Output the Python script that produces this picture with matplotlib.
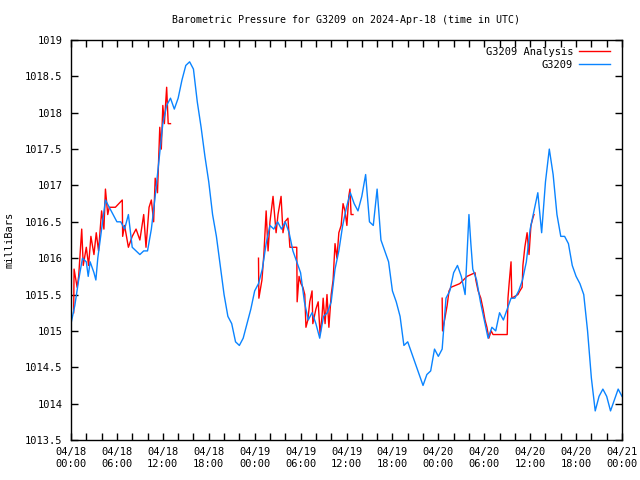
import matplotlib
matplotlib.use('Agg')
import matplotlib.pyplot as plt

# hours since 2024-04-18 00:00 UTC
blue_hours = [0.0, 0.5, 1.0, 1.5, 2.0, 2.25, 2.5, 3.0, 3.25, 3.5, 4.0, 4.5, 5.0, 5.5,
              6.0, 6.5, 7.0, 7.5, 8.0, 8.5, 9.0, 9.5, 10.0, 10.5, 11.0, 11.5, 12.0,
              12.5, 13.0, 13.5, 14.0, 14.5, 15.0, 15.5, 16.0, 16.5, 17.0, 17.5, 18.0,
              18.5, 19.0, 19.5, 20.0, 20.5, 21.0, 21.5, 22.0, 22.5, 23.0, 23.5, 24.0,
              24.5, 25.0, 25.5, 26.0, 26.5, 27.0, 27.5, 28.0, 28.5, 29.0, 29.5, 30.0,
              30.5, 31.0, 31.5, 32.0, 32.5, 33.0, 33.5, 34.0, 34.5, 35.0, 35.5, 36.0,
              36.5, 37.0, 37.5, 38.0, 38.5, 39.0, 39.5, 40.0, 40.5, 41.0, 41.5, 42.0,
              42.5, 43.0, 43.5, 44.0, 44.5, 45.0, 45.5, 46.0, 46.5, 47.0, 47.5, 48.0,
              48.5, 49.0, 49.5, 50.0, 50.5, 51.0, 51.5, 52.0, 52.25, 52.5, 53.0, 53.5,
              54.0, 54.5, 55.0, 55.5, 56.0, 56.5, 57.0, 57.5, 58.0, 58.5, 59.0, 59.5,
              60.0, 60.5, 61.0, 61.5, 62.0, 62.5, 63.0, 63.5, 64.0, 64.5, 65.0, 65.5,
              66.0, 66.5, 67.0, 67.5, 68.0, 68.5, 69.0, 69.5, 70.0, 70.5, 71.0, 71.5,
              72.0]
blue_mbar = [1015.1, 1015.35, 1015.7, 1016.0, 1015.95, 1015.75, 1015.95, 1015.8, 1015.7,
             1016.0, 1016.4, 1016.8, 1016.7, 1016.6, 1016.5, 1016.5, 1016.4, 1016.6,
             1016.15, 1016.1, 1016.05, 1016.1, 1016.1, 1016.4, 1016.85, 1017.35,
             1017.85, 1018.1, 1018.2, 1018.05, 1018.2, 1018.45, 1018.65, 1018.7,
             1018.6, 1018.15, 1017.8, 1017.4, 1017.05, 1016.6, 1016.3, 1015.9, 1015.5,
             1015.2, 1015.1, 1014.85, 1014.8, 1014.9, 1015.1, 1015.3, 1015.55,
             1015.65, 1015.85, 1016.2, 1016.45, 1016.4, 1016.5, 1016.4, 1016.5,
             1016.35, 1016.1, 1015.95, 1015.8, 1015.4, 1015.15, 1015.25, 1015.1,
             1014.9, 1015.2, 1015.25, 1015.4, 1015.85, 1016.1, 1016.45, 1016.7,
             1016.9, 1016.75, 1016.65, 1016.85, 1017.15, 1016.5, 1016.45, 1016.95,
             1016.25, 1016.1, 1015.95, 1015.55, 1015.4, 1015.2, 1014.8, 1014.85,
             1014.7, 1014.55, 1014.4, 1014.25, 1014.4, 1014.45, 1014.75, 1014.65,
             1014.75, 1015.45, 1015.55, 1015.8, 1015.9, 1015.75, 1015.5, 1016.6,
             1016.2, 1015.85, 1015.7, 1015.4, 1015.15, 1014.9, 1015.05, 1015.0,
             1015.25, 1015.15, 1015.3, 1015.45, 1015.45, 1015.55, 1015.7, 1015.95,
             1016.4, 1016.65, 1016.9, 1016.35, 1017.05, 1017.5, 1017.15, 1016.6,
             1016.3, 1016.3, 1016.2, 1015.9, 1015.75, 1015.65, 1015.5, 1015.0,
             1014.35, 1013.9, 1014.1, 1014.2, 1014.1, 1013.9, 1014.05, 1014.2,
             1014.1]

# analysis series, three separate runs
red1_hours = [0.35, 0.4, 0.8, 1.0, 1.4, 1.6, 2.0, 2.3, 2.6, 3.0, 3.3, 3.6, 4.0, 4.3,
              4.5, 4.8, 5.0, 5.8, 6.7, 6.75, 7.0, 7.5, 8.0, 8.5, 9.0, 9.5, 9.8, 10.2,
              10.5, 10.8, 11.0, 11.3, 11.6, 11.8, 12.0, 12.2, 12.5, 12.7, 13.0]
red1_mbar = [1015.25, 1015.85, 1015.6, 1015.75, 1016.4, 1015.9, 1016.15, 1015.9, 1016.3,
             1016.05, 1016.35, 1016.1, 1016.65, 1016.4, 1016.95, 1016.6, 1016.7,
             1016.7, 1016.8, 1016.3, 1016.45, 1016.15, 1016.3, 1016.4, 1016.25,
             1016.6, 1016.15, 1016.7, 1016.8, 1016.5, 1017.1, 1016.9, 1017.8, 1017.5,
             1018.1, 1017.85, 1018.35, 1017.85, 1017.85]
red2_hours = [24.5, 24.55, 24.95, 25.2, 25.5, 25.75, 26.0, 26.4, 26.8, 27.05, 27.45,
              27.7, 27.95, 28.35, 28.6, 29.5, 29.55, 29.8, 30.05, 30.3, 30.55, 30.7,
              30.95, 31.2, 31.5, 31.6, 32.0, 32.3, 32.55, 32.8, 32.95, 33.2, 33.45,
              33.7, 34.0, 34.25, 34.5, 34.75, 35.0, 35.3, 35.55, 35.8, 36.05, 36.3,
              36.45, 36.6, 36.85]
red2_mbar = [1016.0, 1015.45, 1015.7, 1016.05, 1016.65, 1016.1, 1016.5, 1016.85,
             1016.35, 1016.6, 1016.85, 1016.35, 1016.5, 1016.55, 1016.15, 1016.15,
             1015.4, 1015.75, 1015.65, 1015.6, 1015.5, 1015.05, 1015.15, 1015.4,
             1015.55, 1015.1, 1015.3, 1015.4, 1014.95, 1015.2, 1015.45, 1015.1,
             1015.5, 1015.05, 1015.5, 1015.7, 1016.2, 1016.0, 1016.35, 1016.45,
             1016.75, 1016.65, 1016.45, 1016.85, 1016.95, 1016.6, 1016.6]
red3_hours = [48.5, 48.55, 48.9, 49.15, 49.4, 49.65, 50.8, 51.75, 52.8, 52.9, 53.2,
              53.55, 53.85, 54.1, 54.35, 54.6, 54.9, 55.15, 57.0, 57.1, 57.25, 57.5,
              57.6, 58.4, 58.65, 58.95, 59.05, 59.3, 59.6, 59.85, 60.1, 60.35, 60.5]
red3_mbar = [1015.45, 1015.0, 1015.2, 1015.35, 1015.55, 1015.6, 1015.65, 1015.75,
             1015.8, 1015.7, 1015.55, 1015.45, 1015.3, 1015.15, 1015.05, 1014.9,
             1015.0, 1014.95, 1014.95, 1015.45, 1015.65, 1015.95, 1015.45, 1015.5,
             1015.55, 1015.6, 1015.9, 1016.15, 1016.35, 1016.05, 1016.45, 1016.55,
             1016.6]

tick_hours = list(range(0, 73, 6))
tick_labels = ['04/18\n00:00', '04/18\n06:00', '04/18\n12:00', '04/18\n18:00',
               '04/19\n00:00', '04/19\n06:00', '04/19\n12:00', '04/19\n18:00',
               '04/20\n00:00', '04/20\n06:00', '04/20\n12:00', '04/20\n18:00',
               '04/21\n00:00']
y_ticks = [1013.5, 1014, 1014.5, 1015, 1015.5, 1016, 1016.5, 1017, 1017.5,
           1018, 1018.5, 1019]

plt.rcParams['font.family'] = ['DejaVu Sans Mono']
plt.rcParams['font.size'] = 7.5

fig = plt.figure(figsize=(6.4, 4.8), dpi=100)
ax = fig.add_axes([71 / 640, 40 / 480, 551 / 640, 400 / 480])

red = '#ff0000'
blue = '#0a84ff'
ax.plot(red1_hours, red1_mbar, color=red, lw=1.0, label='G3209 Analysis')
ax.plot(red2_hours, red2_mbar, color=red, lw=1.0)
ax.plot(red3_hours, red3_mbar, color=red, lw=1.0)
ax.plot(blue_hours, blue_mbar, color=blue, lw=1.0, label='G3209')

ax.set_xlim(0, 72)
ax.set_ylim(1013.5, 1019)
ax.set_xticks(tick_hours)
ax.set_xticklabels(tick_labels)
ax.set_xticks(range(0, 73, 2), minor=True)
ax.set_yticks(y_ticks)
ax.set_yticklabels(['%g' % v for v in y_ticks])
ax.tick_params(which='both', direction='in', top=True, right=True,
               length=5, width=1.0, pad=6)
ax.tick_params(axis='x', which='major', pad=5)
for s in ax.spines.values():
    s.set_linewidth(1.0)

ax.set_ylabel('milliBars', labelpad=8)
ax.set_title('Barometric Pressure for G3209 on 2024-Apr-18 (time in UTC)',
             fontsize=7.2, pad=12)
ax.legend(loc='upper right', bbox_to_anchor=(0.985, 0.993), frameon=False,
          markerfirst=False, handlelength=2.9, borderaxespad=0.0,
          labelspacing=0.25, handletextpad=0.6)

fig.savefig('out.png', dpi=100)
